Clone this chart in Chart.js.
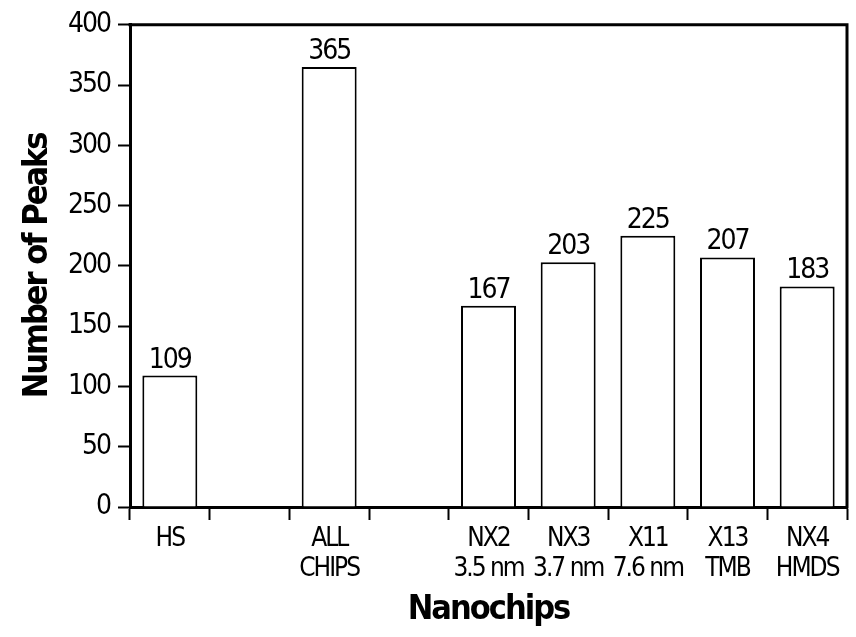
<!DOCTYPE html>
<html>
<head>
<meta charset="utf-8">
<script src="https://cdn.jsdelivr.net/npm/chart.js@4/dist/chart.umd.min.js"></script>
<style>
  html, body { margin: 0; padding: 0; background: #fff; }
  #wrap { width: 856px; height: 637px; }
</style>
</head>
<body>
<div id="wrap"><canvas id="c" width="856" height="637"></canvas></div>
<script>
// Categories (multi-line labels), blank slots separate the groups
const categories = [['HS'], [''], ['ALL', 'CHIPS'], [''], ['NX2', '3.5 nm'], ['NX3', '3.7 nm'], ['X11', '7.6 nm'], ['X13', 'TMB'], ['NX4', 'HMDS']];
// Number of peaks per nanochip
const peakCounts = [109, null, 365, null, 167, 203, 225, 207, 183];
// Y tick values
const yTickValues = [0, 50, 100, 150, 200, 250, 300, 350, 400];
const xTitle = 'Nanochips';
const yTitle = 'Number of Peaks';

const FAMILY = "'DejaVu Sans Condensed', 'Liberation Sans Narrow', sans-serif";
const TIGHT = '-2px';

// Tighter letter spacing for all canvas text (condensed look)
const spacingPlugin = {
  id: 'spacing',
  beforeUpdate(chart) { chart.ctx.letterSpacing = TIGHT; },
  beforeDraw(chart) { chart.ctx.letterSpacing = TIGHT; }
};

// Closes the plot box with top and right lines
const framePlugin = {
  id: 'frame',
  afterDraw(chart) {
    const { ctx, chartArea: a } = chart;
    ctx.save();
    ctx.strokeStyle = '#000';
    ctx.lineWidth = 3;
    ctx.beginPath();
    ctx.moveTo(a.left - 1.5, a.top);
    ctx.lineTo(a.right, a.top);
    ctx.lineTo(a.right, a.bottom + 1.5);
    ctx.stroke();
    ctx.restore();
  }
};

// Writes each bar's value above it
const valueLabelPlugin = {
  id: 'valueLabels',
  afterDatasetsDraw(chart) {
    const { ctx } = chart;
    const meta = chart.getDatasetMeta(0);
    const data = chart.data.datasets[0].data;
    ctx.save();
    ctx.letterSpacing = TIGHT;
    ctx.fillStyle = '#000';
    ctx.font = '28px ' + FAMILY;
    ctx.textAlign = 'center';
    ctx.textBaseline = 'alphabetic';
    meta.data.forEach((bar, i) => {
      const v = data[i];
      if (v === null || v === undefined) return;
      ctx.fillText(String(v), bar.x, bar.y - 8);
    });
    ctx.restore();
  }
};

new Chart(document.getElementById('c'), {
  type: 'bar',
  data: {
    labels: categories,
    datasets: [{
      data: peakCounts,
      backgroundColor: '#fff',
      borderColor: '#000',
      borderWidth: 2,
      categoryPercentage: 1,
      barPercentage: 0.69
    }]
  },
  options: {
    responsive: false,
    animation: false,
    devicePixelRatio: 1,
    layout: { padding: { top: 24, right: 9, bottom: 0, left: 0 } },
    plugins: {
      legend: { display: false },
      tooltip: { enabled: false }
    },
    scales: {
      x: {
        grid: {
          display: true,
          offset: true,
          drawOnChartArea: false,
          drawTicks: true,
          tickLength: 13,
          tickWidth: 2,
          tickColor: '#000'
        },
        border: { display: true, color: '#000', width: 3 },
        ticks: {
          color: '#000',
          font: { family: FAMILY, size: 26, lineHeight: '30px' },
          padding: 4,
          maxRotation: 0,
          autoSkip: false
        },
        title: {
          display: true,
          text: xTitle,
          color: '#000',
          font: { family: FAMILY, size: 34, weight: 'bold', lineHeight: 1.2 },
          padding: { top: 0, bottom: 6 }
        },
        afterFit(scale) { scale.height = 130; }
      },
      y: {
        min: yTickValues[0],
        max: yTickValues[yTickValues.length - 1],
        afterBuildTicks(scale) { scale.ticks = yTickValues.map(v => ({ value: v })); },
        grid: {
          display: true,
          drawOnChartArea: false,
          drawTicks: true,
          tickLength: 12,
          tickWidth: 2,
          tickColor: '#000'
        },
        border: { display: true, color: '#000', width: 3 },
        ticks: {
          color: '#000',
          font: { family: FAMILY, size: 28 },
          padding: 8
        },
        title: {
          display: true,
          text: yTitle,
          color: '#000',
          font: { family: FAMILY, size: 34, weight: 'bold', lineHeight: 1.2 },
          padding: { top: 18, bottom: 0 }
        },
        afterFit(scale) { scale.width = 130; }
      }
    }
  },
  plugins: [spacingPlugin, framePlugin, valueLabelPlugin]
});
</script>
</body>
</html>
